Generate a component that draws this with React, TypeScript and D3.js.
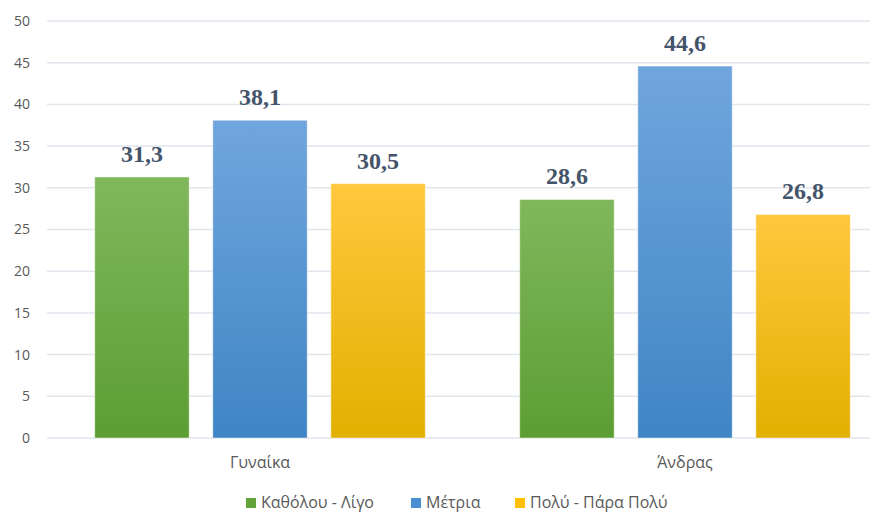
import React from "react";
import * as d3 from "d3";

const categories = ["Γυναίκα", "Άνδρας"];
const seriesNames = ["Καθόλου - Λίγο", "Μέτρια", "Πολύ - Πάρα Πολύ"];
const seriesValues = [
  [31.3, 28.6],
  [38.1, 44.6],
  [30.5, 26.8],
];
const yTicks = [0, 5, 10, 15, 20, 25, 30, 35, 40, 45, 50];
const gradTop = ["#80B75C", "#70A6DD", "#FFC83E"];
const gradBottom = ["#5C9E33", "#3F85C5", "#E2B000"];
const legendColors = ["#62A43A", "#4A8FD0", "#FFC000"];

const W = 870;
const H = 513;

export default function App() {
  const y = d3.scaleLinear().domain([0, 50]).range([438, 21]);
  const x0 = d3.scaleBand<string>().domain(categories).range([47.5, 897.5]).paddingInner(0).paddingOuter(0);
  const x1 = d3
    .scaleBand<number>()
    .domain(seriesNames.map((_, i) => i))
    .range([0, x0.bandwidth()])
    .paddingInner(0.2)
    .paddingOuter(0.4);
  const fmt = (v: number) => v.toFixed(1).replace(".", ",");
  const legendX = [246, 411, 515];

  return (
    <svg width={W} height={H} style={{ position: "absolute", left: 0, top: 0, background: "#fff" }}>
      <defs>
        {categories.map((c, ci) =>
          seriesNames.map((s, si) => {
            const top = y(seriesValues[si][ci]);
            return (
              <linearGradient key={`${ci}-${si}`} id={`gs${si}c${ci}`} x1="0" y1={top} x2="0" y2={y(0)} gradientUnits="userSpaceOnUse">
                <stop offset="0" stopColor={gradTop[si]} />
                <stop offset="1" stopColor={gradBottom[si]} />
              </linearGradient>
            );
          })
        )}
      </defs>
      {yTicks.map((t) => (
        <g key={t}>
          <line x1={47} x2={W} y1={y(t)} y2={y(t)} stroke="#E1E5EC" strokeWidth={1.5} />
          <text x={30} y={y(t)} dy="0.35em" textAnchor="end" fontFamily="'Open Sans', sans-serif" fontSize={14} fill="#595959">
            {t}
          </text>
        </g>
      ))}
      {categories.map((c, ci) => (
        <g key={c} transform={`translate(${x0(c)},0)`}>
          {seriesNames.map((s, si) => {
            const v = seriesValues[si][ci];
            const bx = x1(si)!;
            const top = y(v);
            return (
              <g key={s}>
                <rect
                  x={bx}
                  y={top}
                  width={x1.bandwidth()}
                  height={y(0) - top}
                  fill={`url(#gs${si}c${ci})`}
                  stroke="rgba(255,255,255,0.45)"
                  strokeWidth={1}
                />
                <text
                  x={bx + x1.bandwidth() / 2}
                  y={top - 15}
                  textAnchor="middle"
                  fontFamily="'Liberation Serif', 'Times New Roman', serif"
                  fontWeight="bold"
                  fontSize={24}
                  fill="#44546A"
                >
                  {fmt(v)}
                </text>
              </g>
            );
          })}
          <text
            x={x0.bandwidth() / 2}
            y={468}
            textAnchor="middle"
            fontFamily="'Open Sans', sans-serif"
            fontSize={16}
            fill="#595959"
          >
            {c}
          </text>
        </g>
      ))}
      {seriesNames.map((s, i) => (
        <g key={s} transform={`translate(${legendX[i]},0)`}>
          <rect x={0} y={498} width={10} height={10} fill={legendColors[i]} />
          <text x={15} y={508} fontFamily="'Open Sans', sans-serif" fontSize={16} fill="#595959">
            {s}
          </text>
        </g>
      ))}
    </svg>
  );
}
